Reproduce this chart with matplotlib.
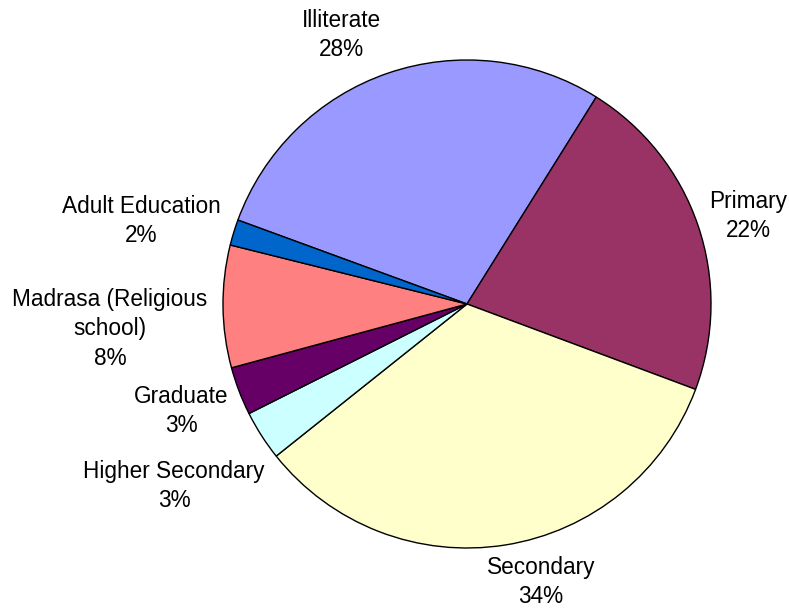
import matplotlib.pyplot as plt

# education level shares (percent)
categories = ["Illiterate", "Primary", "Secondary", "Higher Secondary",
              "Graduate", "Madrasa (Religious\nschool)", "Adult Education"]
shares = [28.3, 21.8, 33.6, 3.3, 3.2, 8.1, 1.7]
colors = ["#9999FF", "#993366", "#FFFFCC", "#CCFFFF",
          "#660066", "#FF8080", "#0066CC"]

# label centres (pixels from top-left)
label_pos = [(341, 35), (748, 216), (541, 582), (174, 486),
             (181, 411), (110, 329), (141, 221)]

W, H = 789, 608
fig = plt.figure(figsize=(W / 100, H / 100), dpi=100)
ax = fig.add_axes([0, 0, 1, 1])

start = 58 + shares[0] * 3.6
ax.pie(shares, colors=colors, startangle=start, counterclock=False,
       center=(467, H - 304), radius=244, frame=True,
       wedgeprops=dict(edgecolor="black", linewidth=1.0))
ax.set_xlim(0, W)
ax.set_ylim(0, H)
ax.set_aspect("equal")
ax.axis("off")

total = sum(shares)
for name, val, (x, y) in zip(categories, shares, label_pos):
    ax.text(x, H - y, f"{name}\n{val / total * 100:.0f}%", ha="center",
            va="center", fontsize=16.3, family="Liberation Sans",
            linespacing=1.38)

fig.savefig("out.png", dpi=100)
